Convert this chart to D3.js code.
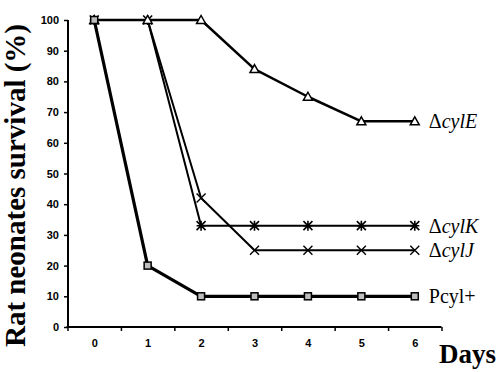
<!DOCTYPE html>
<html><head><meta charset="utf-8">
<script src="https://cdn.jsdelivr.net/npm/d3@7"></script>
<style>body{margin:0;background:#fff}svg{display:block}</style>
</head><body>
<svg id="c" width="500" height="372"></svg>
<script>
const days = [0,1,2,3,4,5,6];
const yTicks = [0,10,20,30,40,50,60,70,80,90,100];
const pcyl = [100,20,10,10,10,10,10];
const cylE = [100,100,100,84,75,67,67];
const cylK = [100,100,33,33,33,33,33];
const cylJ = [100,100,42,25,25,25,25];
const seriesNames = ["ΔcylE","ΔcylK","ΔcylJ","Pcyl+"];

const svg = d3.select("#c");
const x = d3.scaleLinear().domain([-0.5,6.5]).range([67.5,441.5]);
const y = d3.scaleLinear().domain([0,100]).range([327,20]);

// axes
const yAx = svg.append("g").attr("transform","translate(68,0)")
  .call(d3.axisLeft(y).tickValues(yTicks).tickSize(4).tickPadding(5));
yAx.select(".domain").attr("stroke-width",2).attr("d","M0,"+y(100)+"V"+(y(0)+1));
yAx.selectAll(".tick line").attr("stroke-width",1.5);
yAx.selectAll("text").attr("font-family","Liberation Sans, Arial, sans-serif")
  .attr("font-weight","bold").attr("font-size",11);

const bounds = d3.range(-0.5,7,1);
const xAx = svg.append("g").attr("transform","translate(0,327)")
  .call(d3.axisBottom(x).tickValues(bounds).tickSize(4).tickFormat(""));
xAx.select(".domain").attr("stroke-width",2).attr("d","M"+(x(-0.5)-1)+",0H"+x(6.5));
xAx.selectAll(".tick line").attr("stroke-width",1.5);
const xLab = svg.append("g").attr("transform","translate(0,327)")
  .call(d3.axisBottom(x).tickValues(days).tickSize(0).tickPadding(12).tickFormat(d3.format("d")));
xLab.select(".domain").remove();
xLab.selectAll("text").attr("font-family","Liberation Sans, Arial, sans-serif")
  .attr("font-weight","bold").attr("font-size",11);

const line = d3.line().x((d,i)=>x(days[i])).y(d=>y(d));

function drawLine(vals, w){
  svg.append("path").attr("d",line(vals)).attr("fill","none")
    .attr("stroke","#000").attr("stroke-width",w).attr("stroke-linejoin","round");
}
drawLine(cylK,2);
drawLine(cylJ,2);
drawLine(cylE,2.5);
drawLine(pcyl,3.2);

// markers
function asterisk(g,cx,cy){
  const r=4.5;
  g.append("path").attr("d",`M${cx-r},${cy-r}L${cx+r},${cy+r}M${cx-r},${cy+r}L${cx+r},${cy-r}M${cx},${cy-r-0.5}V${cy+r+0.5}M${cx-r},${cy}H${cx+r}`)
   .attr("stroke","#000").attr("stroke-width",1.6);
}
function cross(g,cx,cy){
  const r=4.5;
  g.append("path").attr("d",`M${cx-r},${cy-r}L${cx+r},${cy+r}M${cx-r},${cy+r}L${cx+r},${cy-r}`)
   .attr("stroke","#000").attr("stroke-width",1.4);
}
const mk = svg.append("g");
cylK.forEach((v,i)=>asterisk(mk,x(days[i]),y(v)));
cylJ.forEach((v,i)=>{ if(i>=2) cross(mk,x(days[i]),y(v)); });
cylE.forEach((v,i)=>{
  const cx=x(days[i]), cy=y(v);
  mk.append("path").attr("d",`M${cx},${cy-4.5}L${cx+4.5},${cy+3.5}L${cx-4.5},${cy+3.5}Z`)
    .attr("fill","#fff").attr("stroke","#000").attr("stroke-width",1.5);
});
pcyl.forEach((v,i)=>{
  const cx=x(days[i]), cy=y(v);
  mk.append("rect").attr("x",cx-3.5).attr("y",cy-3.5).attr("width",7).attr("height",7)
    .attr("fill","#bdbdbd").attr("stroke","#000").attr("stroke-width",1.5);
});

// series labels
const lbl = svg.append("g").attr("font-family","Liberation Serif, Times New Roman, serif").attr("font-size",20);
const lastVals = [cylE[6],cylK[6],cylJ[6],pcyl[6]];
seriesNames.forEach((n,i)=>{
  const t = lbl.append("text").attr("x",x(6)+14).attr("y",y(lastVals[i])+7);
  if(n.startsWith("Δ")){
    t.append("tspan").text("Δ");
    t.append("tspan").attr("font-style","italic").text(n.slice(1));
  } else t.text(n);
});

// axis titles
svg.append("text").attr("x",439).attr("y",363)
  .attr("font-family","Liberation Serif, Times New Roman, serif").attr("font-weight","bold")
  .attr("font-size",27).text("Days");
svg.append("text").attr("transform","translate(25,347) rotate(-90)")
  .attr("font-family","Liberation Serif, Times New Roman, serif").attr("font-weight","bold")
  .attr("font-size",29).text("Rat neonates survival (%)");
</script>
</body></html>
